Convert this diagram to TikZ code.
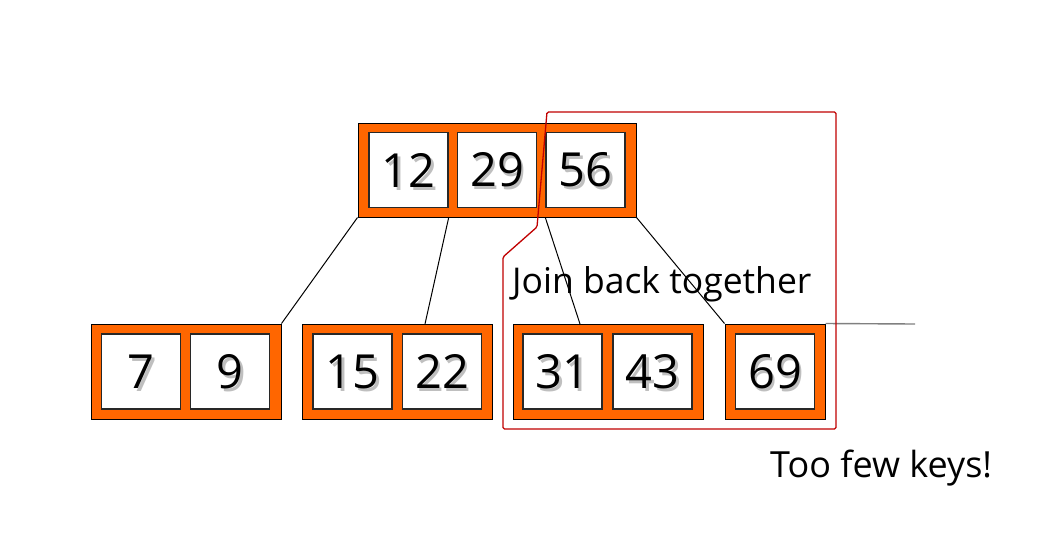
\documentclass[tikz,border=0pt]{standalone}
\usepackage{fontspec}
\setmainfont{Open Sans}
\usepackage{tikz}

\tikzset{
  bnode/.style={draw=black, fill={rgb,255:red,255; green,102; blue,0}, line width=1pt, inner sep=0pt},
  keycell/.style={draw={rgb,255:red,40; green,40; blue,40}, fill=white, line width=1.4pt, inner sep=0pt,
    minimum width=79, minimum height=75},
  keyfont/.style={inner sep=0pt, font=\fontsize{47}{47}\selectfont},
  keyshade/.style={keyfont, text=black!25},
  ptr/.style={draw=black, line width=1pt},
}
% one key cell, with the soft shadow under its number
\newcommand{\keycell}[4]{%
  \node [keycell] (#1) at (#2,#3) {};
  \node [keyshade] (#1s) at (#2+2.5,#3+3) {#4};
  \node [keyfont] (#1t) at (#2,#3) {#4};
}

\begin{document}
\begin{tikzpicture}[x=1pt,y=-1pt]
\useasboundingbox (0,0) rectangle (1051,544);

%Root node
\node [bnode, minimum width=278, minimum height=94] (root) at (497,170) {};
\keycell{k12}{408.5}{170}{12}
\keycell{k29}{497}{170}{29}
\keycell{k56}{585.5}{170}{56}

%Leaf nodes
\node [bnode, minimum width=190, minimum height=95] (leafa) at (186,371.5) {};
\keycell{k7}{141}{371.5}{7}
\keycell{k9}{230}{371.5}{9}

\node [bnode, minimum width=190, minimum height=95] (leafb) at (397,371.5) {};
\keycell{k15}{352.5}{371.5}{15}
\keycell{k22}{442}{371.5}{22}

\node [bnode, minimum width=190, minimum height=95] (leafc) at (608,371.5) {};
\keycell{k31}{562.5}{371.5}{31}
\keycell{k43}{652.5}{371.5}{43}

\node [bnode, minimum width=100, minimum height=95] (leafd) at (775,371.5) {};
\keycell{k69}{775}{371.5}{69}

%Pointers
\coordinate (ptrb) at (425,324);
\coordinate (ptrc) at (580,324);
\draw [ptr] (root.south west) -- (leafa.north east);
\draw [ptr] (k12.east |- root.south) -- (ptrb);
\draw [ptr] (k56.west |- root.south) -- (ptrc);
\draw [ptr] (root.south east) -- (leafd.north west);

%Straight Lines
\coordinate (rightend) at (915,324);
\draw [draw=gray, line width=1.4pt] (leafd.north east) -- (rightend);

%Red outline
\draw [draw={rgb,255:red,192; green,0; blue,0}, line width=1.3pt, rounded corners=1.5pt]
  (547,112) -- (836,112) -- (836,429) -- (503,429) -- (503,257) -- (537,227) -- cycle;

% Text Node
\node [anchor=base west, inner sep=0pt, font=\fontsize{35.5}{35.5}\selectfont] (jointxt) at (512,293) {Join back together};
% Text Node
\node [anchor=base west, inner sep=0pt, font=\fontsize{36}{36}\selectfont] (fewtxt) at (770,477) {Too few keys!};

\end{tikzpicture}
\end{document}
